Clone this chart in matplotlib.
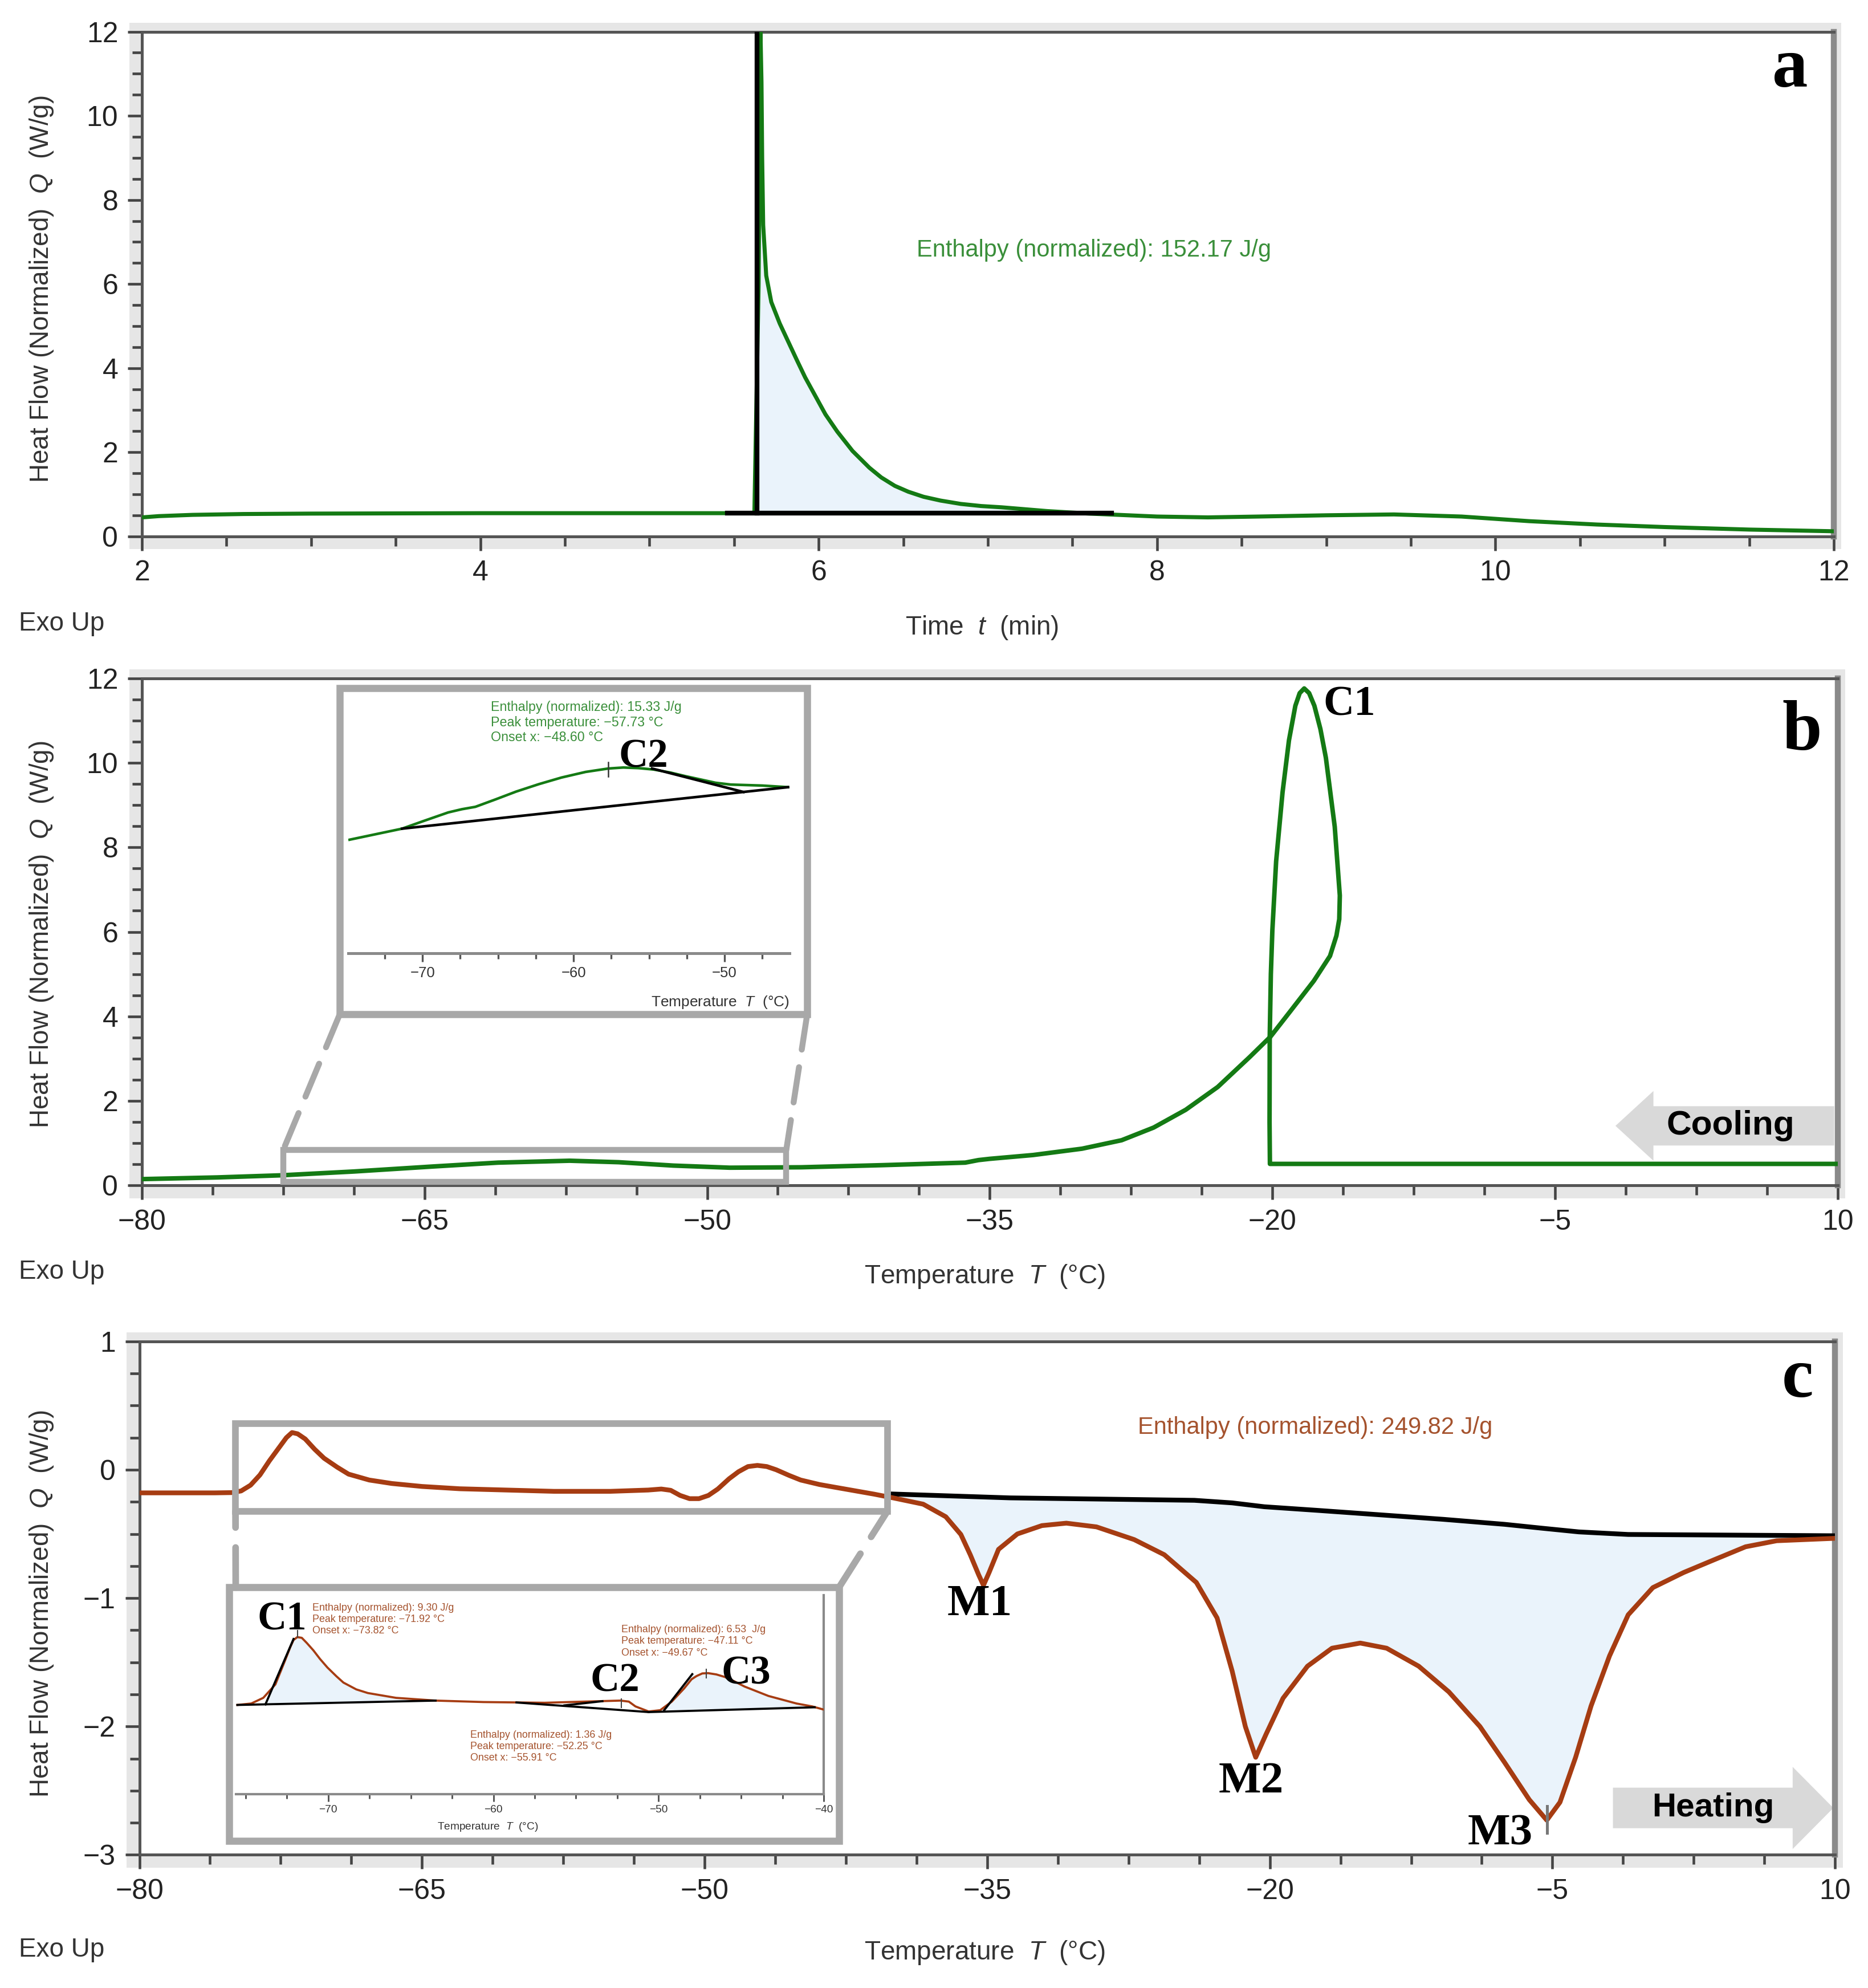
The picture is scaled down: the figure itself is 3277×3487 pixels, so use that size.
import numpy as np
import matplotlib
matplotlib.use('Agg')
import matplotlib.pyplot as plt
from matplotlib.patches import Rectangle, FancyArrow, ConnectionPatch, Polygon

plt.rcParams['font.family'] = ['Liberation Sans', 'DejaVu Sans']
plt.rcParams['mathtext.fontset'] = 'custom'
plt.rcParams['mathtext.it'] = 'Liberation Sans:italic'
plt.rcParams['mathtext.rm'] = 'Liberation Sans'

# ---- panel a : isothermal, time (min) vs heat flow (W/g)
a_curve = [(2.0, 0.45), (2.1, 0.48), (2.3, 0.51), (2.6, 0.53), (3.0, 0.54), (4.0, 0.55),
           (5.0, 0.55), (5.5, 0.55), (5.62, 0.56), (5.645, 6.0), (5.656, 12.0), (5.662, 10.8),
           (5.666, 9.0), (5.672, 7.4), (5.69, 6.2), (5.72, 5.57), (5.77, 5.06), (5.82, 4.63),
           (5.87, 4.2), (5.92, 3.78), (5.98, 3.34), (6.04, 2.9), (6.11, 2.49), (6.2, 2.03),
           (6.30, 1.63), (6.37, 1.4), (6.45, 1.2), (6.53, 1.06), (6.62, 0.94), (6.72, 0.85),
           (6.84, 0.77), (6.96, 0.72), (7.08, 0.69), (7.35, 0.6), (7.6, 0.54), (8.0, 0.47),
           (8.3, 0.45), (8.6, 0.47), (9.0, 0.5), (9.4, 0.52), (9.8, 0.47), (10.2, 0.36),
           (10.6, 0.28), (11.0, 0.22), (11.5, 0.16), (12.0, 0.12)]
a_base = [(5.46, 0.55), (7.73, 0.55)]
a_edge = [(5.634, 0.55), (5.634, 12.0)]
a_fill_end = 7.6
a_enthalpy = 'Enthalpy (normalized): 152.17 J/g'

# ---- panel b : cooling 10 -> -80 C
b_curve = [(10, 0.51), (0, 0.51), (-10, 0.51), (-20.13, 0.51), (-20.15, 1.5), (-20.14, 3.52),
           (-20.08, 5.0), (-20.0, 6.04), (-19.8, 7.67), (-19.46, 9.3), (-19.12, 10.53),
           (-18.78, 11.35), (-18.55, 11.65), (-18.31, 11.76), (-18.05, 11.65), (-17.77, 11.35),
           (-17.45, 10.8), (-17.16, 10.12), (-16.69, 8.49), (-16.42, 6.86), (-16.45, 6.3),
           (-16.6, 5.91), (-16.94, 5.43), (-17.8, 4.84), (-19.05, 4.12), (-20.1, 3.52),
           (-21.2, 3.04), (-22.9, 2.33), (-24.6, 1.79), (-26.3, 1.37), (-28.0, 1.07),
           (-30.1, 0.87), (-32.7, 0.72), (-35.0, 0.63), (-35.6, 0.60), (-36.3, 0.54),
           (-40.7, 0.48), (-45.0, 0.43), (-48.8, 0.42), (-51.8, 0.47), (-54.7, 0.55),
           (-57.3, 0.585), (-61.1, 0.54), (-64.5, 0.45), (-68.75, 0.33), (-72.6, 0.24),
           (-76.0, 0.19), (-80, 0.15)]
b_zoom_win = [(-72.5, 0.09), (-45.8, 0.84)]

b_zoom_curve = [(-74.83, 0.19), (-71.36, 0.245), (-69.94, 0.283), (-68.3, 0.326), (-67.4, 0.342),
                (-66.5, 0.354), (-65.2, 0.39), (-63.8, 0.43), (-62.3, 0.467), (-60.8, 0.50),
                (-59.2, 0.528), (-57.7, 0.545), (-56.7, 0.55), (-55.7, 0.547), (-54.7, 0.54),
                (-53.6, 0.525), (-52.6, 0.507), (-50.6, 0.474), (-49.6, 0.465), (-47.5, 0.46),
                (-45.8, 0.452)]
b_zoom_base = [(-71.36, 0.245), (-45.8, 0.452)]
b_zoom_tangent = [(-54.8, 0.545), (-48.75, 0.428)]
b_zoom_peak = [(-57.7, 0.506), (-57.7, 0.577)]
b_zoom_text = 'Enthalpy (normalized): 15.33 J/g\nPeak temperature: \u221257.73 \u00b0C\nOnset x: \u221248.60 \u00b0C'

# ---- panel c : heating -80 -> 10 C
c_curve = [(-80, -0.18), (-76, -0.18), (-75.1, -0.178), (-74.6, -0.165), (-74.1, -0.12),
           (-73.6, -0.04), (-73.1, 0.07), (-72.6, 0.17), (-72.2, 0.25), (-71.9, 0.29),
           (-71.6, 0.28), (-71.2, 0.24), (-70.7, 0.16), (-70.2, 0.09), (-69.5, 0.02),
           (-68.9, -0.034), (-67.8, -0.08), (-66.6, -0.107), (-65.0, -0.13), (-63.0, -0.148),
           (-60.0, -0.16), (-58.0, -0.168), (-55.0, -0.168), (-53.0, -0.158), (-52.3, -0.15),
           (-51.8, -0.16), (-51.3, -0.2), (-50.8, -0.225), (-50.3, -0.225), (-49.8, -0.2),
           (-49.3, -0.15), (-48.7, -0.07), (-48.2, -0.015), (-47.7, 0.025), (-47.2, 0.034),
           (-46.7, 0.025), (-46.2, 0.0), (-45.5, -0.045), (-44.9, -0.08), (-43.9, -0.115),
           (-42.9, -0.141), (-41.0, -0.19), (-40.0, -0.219), (-38.4, -0.268), (-37.2, -0.366),
           (-36.4, -0.504), (-35.9, -0.662), (-35.45, -0.82), (-35.2, -0.90), (-34.9, -0.80),
           (-34.4, -0.62), (-33.4, -0.50), (-32.1, -0.435), (-30.8, -0.416), (-29.2, -0.445),
           (-27.2, -0.544), (-25.6, -0.662), (-23.9, -0.878), (-22.8, -1.154), (-22.0, -1.568),
           (-21.3, -2.0), (-20.75, -2.24), (-20.2, -2.06), (-19.3, -1.78), (-18.0, -1.53),
           (-16.7, -1.39), (-15.2, -1.35), (-13.8, -1.39), (-12.1, -1.53), (-10.5, -1.73),
           (-8.85, -2.0), (-7.54, -2.28), (-6.23, -2.57), (-5.3, -2.73), (-4.6, -2.59),
           (-3.77, -2.24), (-2.95, -1.84), (-1.97, -1.45), (-0.98, -1.13), (0.33, -0.918),
           (1.97, -0.80), (3.6, -0.70), (5.25, -0.60), (6.9, -0.553), (10.0, -0.534)]
c_base = [(-40.0, -0.189), (-33.8, -0.219), (-24.0, -0.238), (-22.0, -0.258), (-20.3, -0.288),
          (-17.4, -0.317), (-10.8, -0.386), (-7.54, -0.425), (-5.57, -0.455), (-3.6, -0.484),
          (-0.98, -0.504), (10.0, -0.514)]
c_fill_span = (-40.0, 10.0)
c_m3_tick = [(-5.3, -2.62), (-5.3, -2.83)]
c_zoom_win = [(-74.9, -0.323), (-40.3, 0.358)]
c_enthalpy = 'Enthalpy (normalized): 249.82 J/g'
c_peaks = [('M1', -35.4, -1.05), ('M2', -21.0, -2.43), ('M3', -7.78, -2.84)]

c_zoom_curve = [(-75.5, -0.177), (-74.66, -0.167), (-73.93, -0.128), (-73.2, -0.036), (-72.6, 0.133),
                (-72.3, 0.22), (-72.1, 0.27), (-71.87, 0.29), (-71.6, 0.285), (-71.3, 0.25),
                (-70.9, 0.199), (-70.5, 0.14), (-70.05, 0.081), (-69.5, 0.02), (-69.08, -0.023),
                (-68.3, -0.07), (-67.6, -0.095), (-65.9, -0.128), (-63.5, -0.147), (-60.6, -0.157),
                (-56.9, -0.162), (-54.5, -0.154), (-52.3, -0.147), (-51.8, -0.154), (-51.4, -0.187),
                (-50.6, -0.222), (-49.9, -0.213), (-49.2, -0.154), (-48.45, -0.063), (-48.0, 0.0),
                (-47.7, 0.022), (-47.35, 0.04), (-47.0, 0.042), (-46.5, 0.033), (-46.0, 0.016),
                (-45.4, -0.015), (-44.8, -0.05), (-43.35, -0.115), (-41.65, -0.167), (-40.7, -0.187),
                (-40.0, -0.209)]
c_zoom_black = [
    [(-75.5, -0.177), (-63.5, -0.147)],
    [(-73.8, -0.173), (-72.1, 0.277)],
    [(-58.6, -0.16), (-50.6, -0.226)],
    [(-55.7, -0.18), (-53.4, -0.151)],
    [(-50.6, -0.226), (-40.55, -0.193)],
    [(-49.66, -0.213), (-47.96, 0.035)],
]
c_zoom_ticks = [[(-71.87, 0.29), (-71.87, 0.335)],
                [(-52.25, -0.193), (-52.25, -0.134)],
                [(-47.1, 0.009), (-47.1, 0.068)]]
c_fill1 = {'start': (-73.8, -0.173), 'top': (-72.1, 0.27), 'span': (-71.9, -63.5), 'end': (-63.5, -0.147)}
c_fill3 = {'start': (-49.66, -0.213), 'top': (-47.96, 0.035), 'span': (-47.8, -40.7), 'end': (-40.55, -0.193)}
c_zoom_texts = [
    (-70.97, 0.525, 'Enthalpy (normalized): 9.30 J/g\nPeak temperature: \u221271.92 \u00b0C\nOnset x: \u221273.82 \u00b0C'),
    (-52.26, 0.375, 'Enthalpy (normalized): 6.53  J/g\nPeak temperature: \u221247.11 \u00b0C\nOnset x: \u221249.67 \u00b0C'),
    (-61.4, -0.35, 'Enthalpy (normalized): 1.36 J/g\nPeak temperature: \u221252.25 \u00b0C\nOnset x: \u221255.91 \u00b0C'),
]
c_zoom_labels = [('C1', -74.3, 0.34), ('C2', -54.15, -0.082), ('C3', -46.2, -0.03)]

GREEN = '#147a14'
GREEN_TXT = '#3a8f3a'
BROWN = '#a63c12'
BROWN_TXT = '#a5532e'
FILL = '#eaf3fb'
FRAME = '#a8a8a8'
SERIF = ['Liberation Serif', 'DejaVu Serif']

W, H = 1474.0, 1568.0


def box(x0, y0, x1, y1):
    return [x0 / W, 1 - y1 / H, (x1 - x0) / W, (y1 - y0) / H]


def xy(pts):
    arr = np.array(pts, dtype=float)
    return arr[:, 0], arr[:, 1]


def stacked(ax, x, y_top, text, size, color, step):
    # one text object per line, like the instrument's annotation block
    for i, line in enumerate(text.split('\n')):
        ax.annotate(line, (x, y_top), xytext=(0, -i * step), textcoords='offset points',
                    ha='left', va='top', fontsize=size, color=color)


fig = plt.figure(figsize=(3277 / 300, 3487 / 300), dpi=300)


def main_axes(x0, y0, x1, y1):
    # light grey band like the instrument software draws around the plot
    band = Rectangle(((x0 - 10) / W, 1 - (y1 + 10) / H), (x1 - x0 + 16) / W, (y1 - y0 + 17) / H,
                     transform=fig.transFigure, facecolor='#e6e6e6', edgecolor='none', zorder=-1)
    fig.patches.append(band)
    ax = fig.add_axes(box(x0, y0, x1, y1))
    ax.set_facecolor('white')
    for s in ax.spines.values():
        s.set_color('#555555')
        s.set_linewidth(1.2)
    ax.spines['right'].set_color('#8a8a8a')
    ax.spines['right'].set_linewidth(2.5)
    ax.tick_params(which='both', direction='out', colors='#444444', labelcolor='#222222',
                   labelsize=12, width=1.1)
    ax.tick_params(which='major', length=6, pad=4)
    ax.tick_params(which='minor', length=4)
    return ax


def side_texts(ylab_y, exo_y):
    fig.text(33 / W, 1 - ylab_y / H, 'Heat Flow (Normalized)  $Q$  (W/g)', rotation=90,
             ha='center', va='center', fontsize=11, color='#333333')
    fig.text(15 / W, 1 - exo_y / H, 'Exo Up', ha='left', va='center', fontsize=11, color='#333333')


# ================= panel a
axa = main_axes(112, 25, 1447, 423)
ta, qa = xy(a_curve)
axa.set_xlim(2, 12)
axa.set_ylim(0, 12)
axa.set_xticks(np.arange(2, 12.1, 2))
axa.set_xticks(np.arange(2, 12.1, 0.5), minor=True)
axa.set_yticks(np.arange(0, 12.1, 2))
axa.set_yticks(np.arange(0, 12.1, 0.5), minor=True)
sel = (ta >= 5.656) & (ta <= a_fill_end)
poly = [a_edge[0], a_edge[1]] + list(zip(ta[sel], qa[sel])) + [(a_fill_end, a_base[0][1])]
axa.add_patch(Polygon(poly, closed=True, facecolor=FILL, edgecolor='none', zorder=1))
axa.plot(ta, qa, color=GREEN, lw=1.7, zorder=3, solid_joinstyle='round')
bx, by = xy(a_base)
axa.plot(bx, by, color='black', lw=2.0, zorder=4)
ex, ey = xy(a_edge)
axa.plot(ex, ey, color='black', lw=2.0, zorder=4)
axa.text(6.58, 6.8, a_enthalpy, color=GREEN_TXT, fontsize=10, ha='left', va='center')
axa.text(0.974, 0.925, 'a', transform=axa.transAxes, fontsize=30, fontweight='bold',
         family=SERIF, ha='center', va='center')
side_texts(228, 492)
fig.text(775 / W, 1 - 495 / H, 'Time  $t$  (min)', ha='center', va='center', fontsize=11, color='#333333')

# ================= panel b
axb = main_axes(112, 535, 1450, 935)
tb, qb = xy(b_curve)
axb.set_xlim(-80, 10)
axb.set_ylim(0, 12)
axb.set_xticks(np.arange(-80, 10.1, 15))
axb.set_xticks(np.arange(-80, 10.1, 3.75), minor=True)
axb.set_yticks(np.arange(0, 12.1, 2))
axb.set_yticks(np.arange(0, 12.1, 0.5), minor=True)
axb.plot(tb, qb, color=GREEN, lw=1.9, zorder=3, solid_joinstyle='round')
(wx0, wy0), (wx1, wy1) = b_zoom_win
axb.add_patch(Rectangle((wx0, wy0), wx1 - wx0, wy1 - wy0, fill=False, edgecolor=FRAME, lw=2.5, zorder=4))
axb.text(-17.3, 11.37, 'C1', fontsize=18, fontweight='bold', family=SERIF, ha='left', va='center')
axb.text(0.979, 0.893, 'b', transform=axb.transAxes, fontsize=30, fontweight='bold',
         family=SERIF, ha='center', va='center')
axb.add_patch(FancyArrow(0.998, 0.1175, -0.129, 0, width=0.0775, head_width=0.1375, head_length=0.0224,
                         length_includes_head=True, transform=axb.transAxes, color='#d9d9d9',
                         ec='none', zorder=2))
axb.text(0.937, 0.1175, 'Cooling', transform=axb.transAxes, fontsize=14.5, fontweight='bold',
         ha='center', va='center', zorder=3)
side_texts(737, 1003)
fig.text(777 / W, 1 - 1007 / H, 'Temperature  $T$  (\u00b0C)', ha='center', va='center', fontsize=11, color='#333333')

# inset b
axbi = fig.add_axes(box(275, 550, 623, 752))
axbi.set_xlim(-74.9, -45.7)
axbi.set_ylim(-0.377, 0.90)
for k in ['left', 'top', 'right']:
    axbi.spines[k].set_visible(False)
axbi.spines['bottom'].set_color('#8a8a8a')
axbi.spines['bottom'].set_linewidth(1.2)
axbi.set_yticks([])
axbi.set_xticks([-70, -60, -50])
axbi.set_xticks(np.arange(-72.5, -45.0, 2.5), minor=True)
axbi.tick_params(which='both', direction='out', colors='#555555', labelcolor='#333333', labelsize=6.2, width=0.8)
axbi.tick_params(which='major', length=3.5, pad=2)
axbi.tick_params(which='minor', length=2.5)
axbi.add_patch(Rectangle((-0.02, -0.238), 1.06, 1.273, transform=axbi.transAxes, clip_on=False,
                         facecolor='white', edgecolor=FRAME, lw=3, zorder=0.5))
ti, qi = xy(b_zoom_curve)
axbi.plot(ti, qi, color=GREEN, lw=1.1, zorder=3)
for seg in (b_zoom_base, b_zoom_tangent):
    sx, sy = xy(seg)
    axbi.plot(sx, sy, color='black', lw=1.1, zorder=4)
px, py = xy(b_zoom_peak)
axbi.plot(px, py, color='#333333', lw=0.6, zorder=4)
stacked(axbi, -65.46, 0.883, b_zoom_text, 5.6, GREEN_TXT, 6.4)
axbi.text(-57.0, 0.552, 'C2', fontsize=17, fontweight='bold', family=SERIF, ha='left', va='baseline')
axbi.text(1.0, -0.19, 'Temperature  $T$  (\u00b0C)', transform=axbi.transAxes, fontsize=6.3,
          ha='right', va='center', color='#333333')
for a_pt, b_pt in (((-0.02, -0.238), (wx0, wy1)), ((1.04, -0.238), (wx1, wy1))):
    fig.add_artist(ConnectionPatch(xyA=a_pt, coordsA=axbi.transAxes, xyB=b_pt, coordsB=axb.transData,
                                   color=FRAME, lw=2.5, linestyle=(0, (6, 3))))

# ================= panel c
axc = main_axes(110, 1058, 1448, 1463)
tc, qc = xy(c_curve)
axc.set_xlim(-80, 10)
axc.set_ylim(-3, 1)
axc.set_xticks(np.arange(-80, 10.1, 15))
axc.set_xticks(np.arange(-80, 10.1, 3.75), minor=True)
axc.set_yticks(np.arange(-3, 1.1, 1))
axc.set_yticks(np.arange(-3, 1.01, 0.25), minor=True)
cbx, cby = xy(c_base)
sel = (tc >= c_fill_span[0]) & (tc <= c_fill_span[1])
poly = list(zip(tc[sel], qc[sel])) + list(zip(cbx[::-1], cby[::-1]))
axc.add_patch(Polygon(poly, closed=True, facecolor=FILL, edgecolor='none', zorder=1))
axc.plot(cbx, cby, color='black', lw=2.0, zorder=3)
axc.plot(tc, qc, color=BROWN, lw=2.0, zorder=4, solid_joinstyle='round')
mx, my = xy(c_m3_tick)
axc.plot(mx, my, color='#777777', lw=1.2, zorder=5)
(zx0, zy0), (zx1, zy1) = c_zoom_win
axc.add_patch(Rectangle((zx0, zy0), zx1 - zx0, zy1 - zy0, fill=False, edgecolor=FRAME, lw=2.8, zorder=5))
axc.text(-27.0, 0.33, c_enthalpy, color=BROWN_TXT, fontsize=10, ha='left', va='center')
for name, tx, ty in c_peaks:
    axc.text(tx, ty, name, fontsize=19, fontweight='bold', family=SERIF, ha='center', va='center', zorder=6)
axc.text(0.978, 0.925, 'c', transform=axc.transAxes, fontsize=30, fontweight='bold',
         family=SERIF, ha='center', va='center')
axc.add_patch(FancyArrow(0.869, 0.0914, 0.13, 0, width=0.079, head_width=0.16, head_length=0.024,
                         length_includes_head=True, transform=axc.transAxes, color='#d9d9d9',
                         ec='none', zorder=2))
axc.text(0.928, 0.0914, 'Heating', transform=axc.transAxes, fontsize=14, fontweight='bold',
         ha='center', va='center', zorder=3)
side_texts(1265, 1538)
fig.text(777 / W, 1 - 1540 / H, 'Temperature  $T$  (\u00b0C)', ha='center', va='center', fontsize=11, color='#333333')

# inset c
axci = fig.add_axes(box(186, 1258, 650, 1415))
axci.set_xlim(-75.6, -40)
axci.set_ylim(-0.79, 0.58)
for k in ['left', 'top']:
    axci.spines[k].set_visible(False)
for k in ['bottom', 'right']:
    axci.spines[k].set_color('#8a8a8a')
    axci.spines[k].set_linewidth(1.0)
axci.set_yticks([])
axci.set_xticks([-70, -60, -50, -40])
axci.set_xticks(np.arange(-75, -39.9, 2.5), minor=True)
axci.tick_params(which='both', direction='out', colors='#555555', labelcolor='#333333', labelsize=4.6, width=0.7)
axci.tick_params(which='major', length=3, pad=1.5)
axci.tick_params(which='minor', length=2)
axci.add_patch(Rectangle((-0.011, -0.236), 1.037, 1.274, transform=axci.transAxes, clip_on=False,
                         facecolor='white', edgecolor=FRAME, lw=3, zorder=0.5))
tci, qci = xy(c_zoom_curve)
for fp in (c_fill1, c_fill3):
    s = (tci >= fp['span'][0]) & (tci <= fp['span'][1])
    poly = [fp['start'], fp['top']] + list(zip(tci[s], qci[s])) + [fp['end']]
    axci.add_patch(Polygon(poly, closed=True, facecolor=FILL, edgecolor='none', zorder=1))
axci.plot(tci, qci, color=BROWN, lw=0.9, zorder=3, solid_joinstyle='round')
for seg in c_zoom_black:
    sx, sy = xy(seg)
    axci.plot(sx, sy, color='black', lw=0.9, zorder=4)
for seg in c_zoom_ticks:
    sx, sy = xy(seg)
    axci.plot(sx, sy, color='#444444', lw=0.5, zorder=4)
for tx, ty, s in c_zoom_texts:
    stacked(axci, tx, ty, s, 4.3, BROWN_TXT, 4.9)
for name, tx, ty in c_zoom_labels:
    axci.text(tx, ty, name, fontsize=17, fontweight='bold', family=SERIF, ha='left', va='baseline')
axci.text(0.429, -0.166, 'Temperature  $T$  (\u00b0C)', transform=axci.transAxes, fontsize=4.6,
          ha='center', va='center', color='#333333')
for a_pt, b_pt in (((0.0, 1.038), (zx0, zy0)), ((1.026, 1.038), (zx1, zy0))):
    fig.add_artist(ConnectionPatch(xyA=a_pt, coordsA=axci.transAxes, xyB=b_pt, coordsB=axc.transData,
                                   color=FRAME, lw=2.8, linestyle=(0, (6, 3))))

fig.savefig('out.png', dpi=300, facecolor='white')
